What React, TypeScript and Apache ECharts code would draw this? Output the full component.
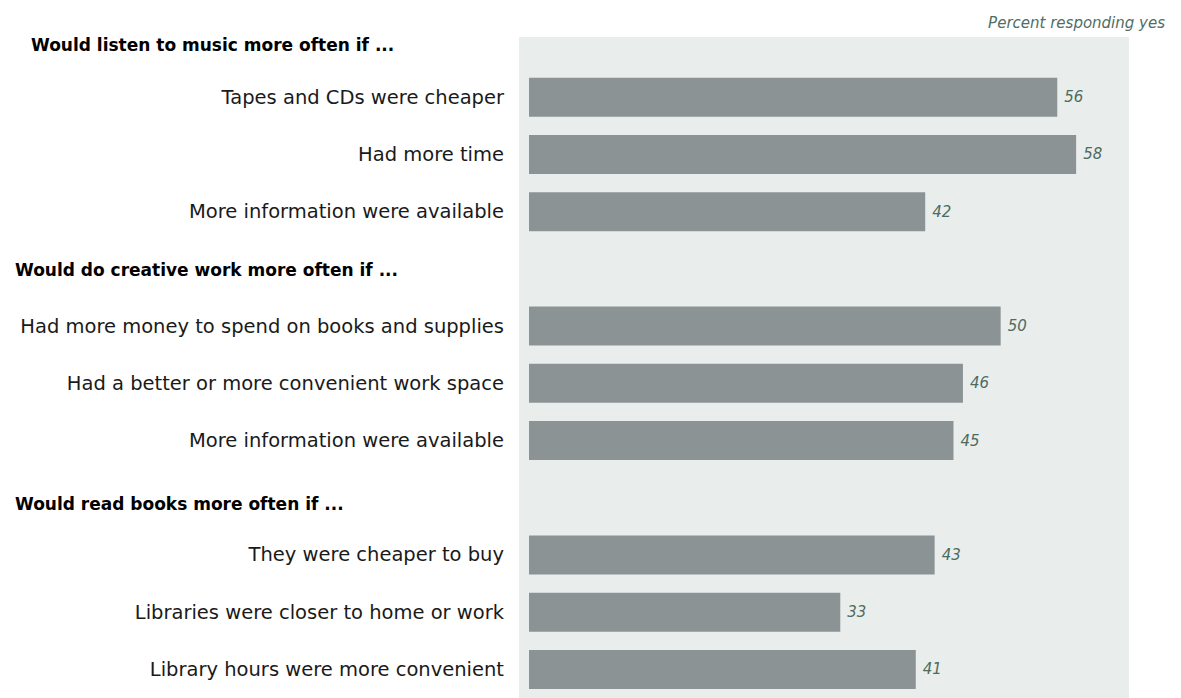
import React, { useEffect, useRef } from "react";
import * as echarts from "echarts";

const headers = [
  "Would listen to music more often if ...",
  "Would do creative work more often if ...",
  "Would read books more often if ...",
];
const musicItems = [
  "Tapes and CDs were cheaper",
  "Had more time",
  "More information were available",
];
const musicValues = [56, 58, 42];
const creativeItems = [
  "Had more money to spend on books and supplies",
  "Had a better or more convenient work space",
  "More information were available",
];
const creativeValues = [50, 46, 45];
const bookItems = [
  "They were cheaper to buy",
  "Libraries were closer to home or work",
  "Library hours were more convenient",
];
const bookValues = [43, 33, 41];
const unitLabel = "Percent responding yes";

const groups = [
  { header: headers[0], items: musicItems, values: musicValues },
  { header: headers[1], items: creativeItems, values: creativeValues },
  { header: headers[2], items: bookItems, values: bookValues },
];

export default function App() {
  const ref = useRef<HTMLDivElement>(null);
  useEffect(() => {
    document.body.style.margin = "0";
    if (!ref.current) return;
    const chart = echarts.init(ref.current, null, { renderer: "svg" });

    const categories: string[] = [];
    const values: (number | string)[] = [];
    const headerIndex: Record<number, number> = {};
    groups.forEach((g, gi) => {
      headerIndex[categories.length] = gi;
      categories.push(g.header);
      values.push("-");
      g.items.forEach((it, i) => {
        categories.push(it);
        values.push(g.values[i]);
      });
    });

    const fontLabel = "'DejaVu Sans', sans-serif";
    const headerStyle = (w: number, pad: number) => ({
      width: w,
      align: "left" as const,
      fontFamily: "'DejaVu Sans', sans-serif",
      fontWeight: "bold" as const,
      fontSize: 17,
      color: "#000000",
      padding: [pad, 0, 0, 0],
    });

    chart.setOption({
      animation: false,
      backgroundColor: "#ffffff",
      title: {
        text: unitLabel,
        right: 11,
        top: 10,
        textStyle: {
          fontFamily: fontLabel,
          fontStyle: "italic",
          fontWeight: "normal",
          fontSize: 15,
          color: "#4f6e63",
        },
      },
      graphic: [
        {
          type: "rect",
          z: 0,
          silent: true,
          shape: { x: 519, y: 37, width: 610, height: 661 },
          style: { fill: "#e9eeec" },
        },
      ],
      grid: { left: 529, top: 11.4, height: 688.8, width: 566, containLabel: false },
      xAxis: {
        type: "value",
        min: 0,
        max: 60,
        show: false,
      },
      yAxis: {
        type: "category",
        inverse: true,
        data: categories,
        axisLine: { show: false },
        axisTick: { show: false },
        splitLine: { show: false },
        axisLabel: {
          interval: 0,
          margin: 25,
          fontFamily: fontLabel,
          fontSize: 19.5,
          color: "#1a1a1a",
          formatter: (v: string, idx: number) => {
            if (idx in headerIndex) return `{h${headerIndex[idx]}|${v}}`;
            return v;
          },
          rich: {
            h0: headerStyle(473, 10),
            h1: headerStyle(489, 3),
            h2: headerStyle(489, 13),
          },
        },
      },
      series: [
        {
          type: "bar",
          data: values,
          barWidth: 39,
          itemStyle: { color: "#8b9394" },
          z: 2,
          label: {
            show: true,
            position: "right",
            distance: 7,
            fontFamily: fontLabel,
            fontStyle: "italic",
            fontSize: 15,
            color: "#4d6b61",
          },
        },
      ],
    });
    return () => chart.dispose();
  }, []);
  return <div ref={ref} style={{ width: 1181, height: 698 }} />;
}
